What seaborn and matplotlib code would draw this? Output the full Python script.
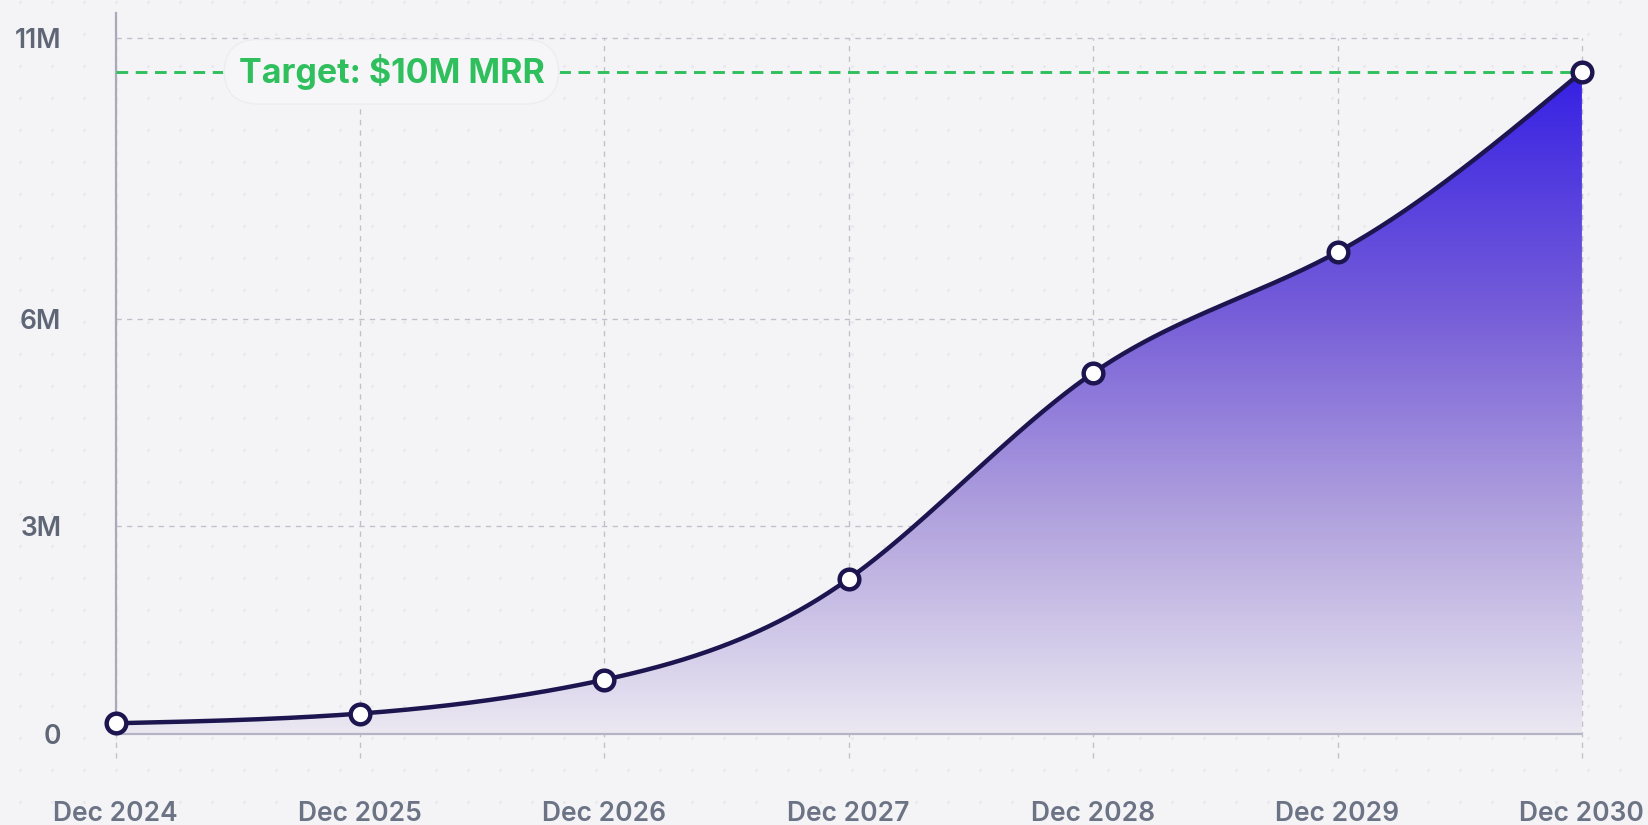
import numpy as np
import pandas as pd
import seaborn as sns
import matplotlib.pyplot as plt
from matplotlib.colors import LinearSegmentedColormap

# data (MRR in millions)
periods = ["Dec 2024", "Dec 2025", "Dec 2026", "Dec 2027", "Dec 2028", "Dec 2029", "Dec 2030"]
mrr = [0.15, 0.29, 0.78, 2.24, 5.22, 6.97, 9.58]
target = 9.58
target_label = "Target: $10M MRR"
ytick_vals = [0, 3, 6, 10.07]
ytick_labels = ["0", "3M", "6M", "11M"]

sns.set_theme(style="white")
plt.rcParams["font.family"] = ["Inter", "DejaVu Sans"]

df = pd.DataFrame({"x": np.arange(len(periods)), "mrr": mrr})


def natural_curve(x, y, n=600):
    # natural cubic spline, only used to draw the smooth line
    x = np.asarray(x, float)
    y = np.asarray(y, float)
    k = len(x)
    h = np.diff(x)
    A = np.zeros((k, k))
    b = np.zeros(k)
    A[0, 0] = A[-1, -1] = 1
    for i in range(1, k - 1):
        A[i, i - 1] = h[i - 1]
        A[i, i] = 2 * (h[i - 1] + h[i])
        A[i, i + 1] = h[i]
        b[i] = 6 * ((y[i + 1] - y[i]) / h[i] - (y[i] - y[i - 1]) / h[i - 1])
    M = np.linalg.solve(A, b)
    xs = np.linspace(x[0], x[-1], n)
    idx = np.clip(np.searchsorted(x, xs) - 1, 0, k - 2)
    hi = h[idx]
    a = x[idx + 1] - xs
    c = xs - x[idx]
    ys = (M[idx] * a**3 / (6 * hi) + M[idx + 1] * c**3 / (6 * hi)
          + (y[idx] / hi - M[idx] * hi / 6) * a
          + (y[idx + 1] / hi - M[idx + 1] * hi / 6) * c)
    return xs, ys


xs, ys = natural_curve(df["x"], df["mrr"])
smooth = pd.DataFrame({"x": xs, "mrr": ys})

fig = plt.figure(figsize=(16.48, 8.25), dpi=100)
fig.patch.set_facecolor("#f4f4f7")

# faint dotted background pattern
bg = fig.add_axes([0, 0, 1, 1], zorder=-2)
bg.set_xlim(0, 1648)
bg.set_ylim(825, 0)
bg.axis("off")
gx, gy = np.meshgrid(np.arange(20, 1648, 32), np.arange(2, 825, 32))
bg.scatter(gx.ravel(), gy.ravel(), s=4, color="#e7e7ed", linewidths=0)

ax = fig.add_axes([0.0701, 0.0812, 0.8898, 0.903])
ax.set_facecolor("none")
ymin, ymax = -0.353, 10.43
ax.set_xlim(0, 6)
ax.set_ylim(ymin, ymax)

# gridlines
grid_kw = dict(color="#c0c0ca", linewidth=0.95, linestyles=(0, (4, 4)), zorder=1)
ax.hlines(ytick_vals[1:], 0, 6, **grid_kw)
ax.vlines(df["x"], ymin, ytick_vals[-1], clip_on=False, **grid_kw)

# gradient fill under the curve
cmap = LinearSegmentedColormap.from_list(
    "mrr", [(0, "#ebe8f2"), (0.31, "#b4a6de"), (0.625, "#7860d8"), (1, "#3620e4")])
grad = np.linspace(0, 1, 256).reshape(-1, 1)
img = ax.imshow(grad, cmap=cmap, origin="lower", aspect="auto",
                extent=[0, 6, 0, max(mrr)], zorder=2)
poly = ax.fill_between(xs, 0, ys, color="none", linewidth=0)
img.set_clip_path(poly.get_paths()[0], transform=ax.transData)

# baseline at zero
ax.hlines(0, 0, 6, color="#b4b4c4", linewidth=1.6, zorder=3)

# target line with badge
ax.hlines(target, 0, 6, color="#2fbf5c", linewidth=2.1,
          linestyles=(0, (4, 2.6)), zorder=3)
ax.text(1.129, target, target_label, color="#2fbf5c", fontsize=24.5,
        fontweight="bold", ha="center", va="center", zorder=4,
        bbox=dict(boxstyle="round,pad=0.42,rounding_size=1.0",
                  facecolor="#f6f6f9", edgecolor="#ededf1", linewidth=1))

# growth curve and points
sns.lineplot(data=smooth, x="x", y="mrr", ax=ax, color="#1d154f",
             linewidth=3.2, zorder=5, clip_on=False, sort=False)
sns.scatterplot(data=df, x="x", y="mrr", ax=ax, s=200, color="white",
                edgecolor="#1d154f", linewidth=3.2, zorder=6, clip_on=False)

# axes styling
for side in ["top", "right", "bottom"]:
    ax.spines[side].set_visible(False)
ax.spines["left"].set_color("#a9a9ba")
ax.spines["left"].set_linewidth(1.6)
ax.spines["left"].set_bounds(0, ymax)

ax.set_xticks(df["x"])
ax.set_xticklabels(periods)
ax.set_yticks(ytick_vals)
ax.set_yticklabels(ytick_labels)
ax.tick_params(axis="x", length=0, pad=31, labelsize=19, labelcolor="#6b7385")
ax.tick_params(axis="y", length=0, pad=39, labelsize=19, labelcolor="#5f6676")
for lab in ax.get_xticklabels() + ax.get_yticklabels():
    lab.set_fontweight("semibold")
for lab in ax.get_yticklabels():
    lab.set_horizontalalignment("right")
ax.set_xlabel("")
ax.set_ylabel("")

fig.savefig("out.png", dpi=100, facecolor=fig.get_facecolor())
